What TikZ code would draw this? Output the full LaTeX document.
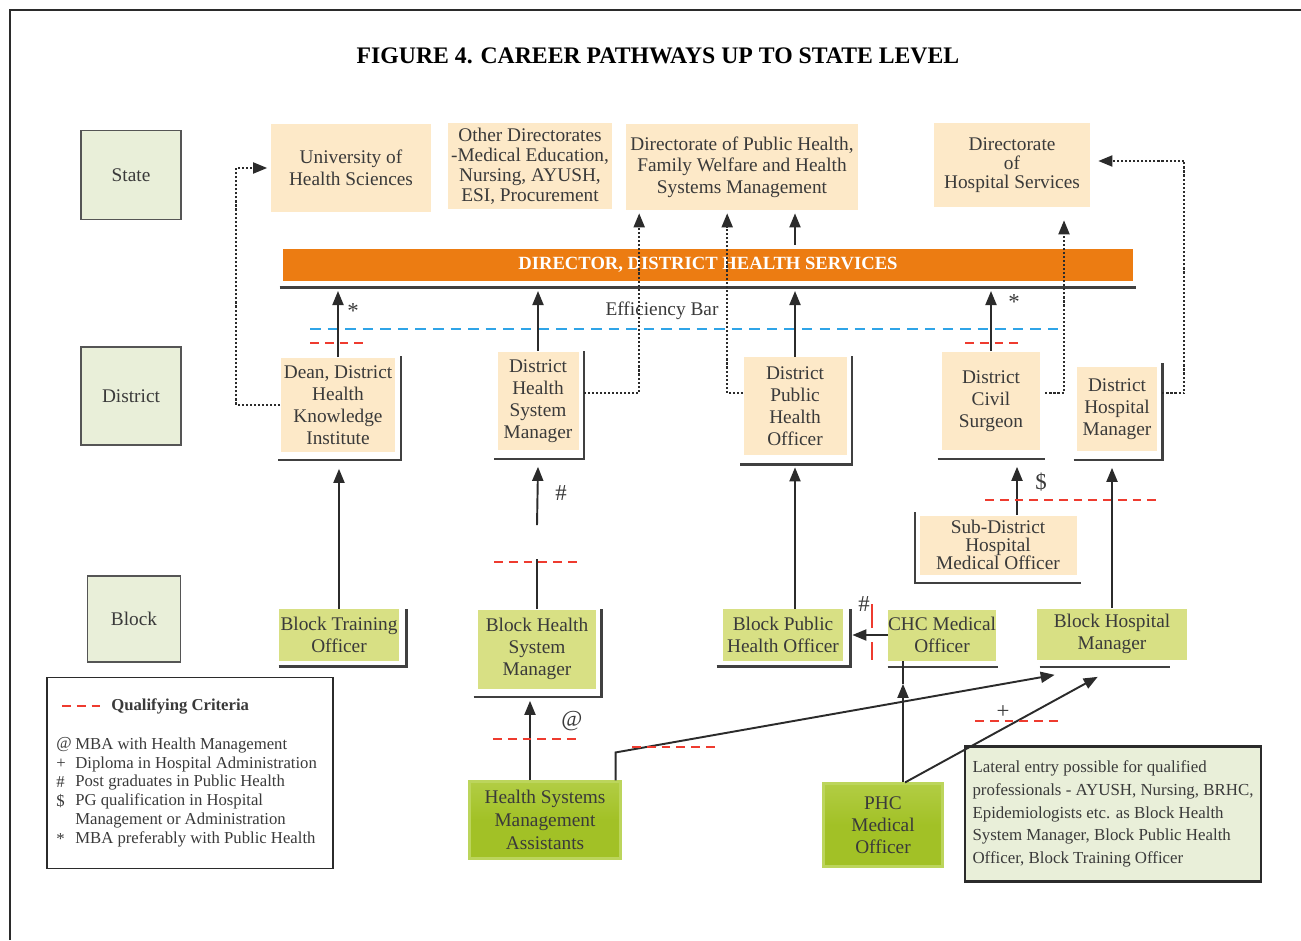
\documentclass[tikz,border=0pt]{standalone}
\usepackage{fontspec}
\setmainfont{Liberation Serif}
\usetikzlibrary{arrows.meta,calc}

\definecolor{peach}{HTML}{FDE9C8}
\definecolor{levelgreen}{HTML}{E9EFD9}
\definecolor{blockgreen}{HTML}{D8E084}
\definecolor{hsgreentop}{HTML}{B2CD44}
\definecolor{hsgreenbot}{HTML}{A2C126}
\definecolor{hsgreenrim}{HTML}{BCD55C}
\definecolor{barorange}{HTML}{EC7C12}
\definecolor{effblue}{HTML}{2FA4E7}
\definecolor{qualred}{HTML}{EE3B2F}
\definecolor{linec}{HTML}{2B2B2B}
\definecolor{textgray}{HTML}{3A3A3A}

\tikzset{
  boxfont/.style={font=\fontsize{11}{12.5}\selectfont},
  levelbox/.style={draw=linec!80, line width=1.1pt, fill=levelgreen, text=textgray, boxfont, inner sep=0pt},
  peachbox/.style={fill=peach, text=textgray, boxfont, align=center, inner sep=0pt},
  blockbox/.style={fill=blockgreen, text=textgray, boxfont, align=center, inner sep=0pt},
  hsbox/.style={draw=hsgreenrim, line width=1.2pt, top color=hsgreentop, bottom color=hsgreenbot, middle color=hsgreenbot, text=textgray, boxfont, align=center, inner sep=0pt},
  barbox/.style={fill=barorange, text=white, font=\fontsize{10.6}{12}\selectfont\bfseries, inner sep=0pt},
  shadowline/.style={draw=linec!90, line width=1.4pt},
  arr/.style={draw=linec, line width=1.1pt, -{Triangle[length=2.8mm,width=2.2mm]}},
  dotarr/.style={draw=linec, line width=1.1pt, dash pattern=on 1.2pt off 1.1pt, -{Triangle[length=2.8mm,width=2.2mm]}},
  reddash/.style={draw=qualred, line width=1.3pt, dash pattern=on 5pt off 3.4pt},
  bluedash/.style={draw=effblue, line width=1.3pt, dash pattern=on 6pt off 4pt},
  marktxt/.style={text=textgray, font=\fontsize{13}{14}\selectfont, inner sep=0pt},
  legendtxt/.style={anchor=west, text=textgray, font=\fontsize{9.5}{11}\selectfont, inner sep=0pt},
}

\begin{document}
\begin{tikzpicture}[x=0.02cm,y=-0.02cm]
% Canvas and frame
\useasboundingbox (0,0) rectangle (1301,940);
\draw[linec, line width=1.6pt] (10,940) -- (10,10) -- (1301,10);
\node[font=\fontsize{13.5}{15}\selectfont\bfseries] (title) at (658,56) {FIGURE 4. CAREER PATHWAYS UP TO STATE LEVEL};

% Levels
\foreach \name/\txt/\x/\y/\w/\h in {state/State/131/175/2cm/1.78cm, district/District/131/396/2cm/1.96cm, block/Block/134/619/1.86cm/1.72cm}
  \node[levelbox, minimum width=\w, minimum height=\h] (\name) at (\x,\y) {\txt};

% State level
\node[peachbox, minimum width=3.2cm, minimum height=1.76cm] (uhs) at (351,168) {University of\\Health Sciences};
\node[peachbox, minimum width=3.28cm, minimum height=1.72cm, font=\fontsize{11}{11.3}\selectfont] (otherdir) at (530,166) {Other Directorates\\-Medical Education,\\Nursing, AYUSH,\\ESI, Procurement};
\node[peachbox, minimum width=4.66cm, minimum height=1.72cm, font=\fontsize{11}{12.2}\selectfont] (dph) at (742,167) {Directorate of Public Health,\\Family Welfare and Health\\Systems Management};
\node[peachbox, minimum width=3.12cm, minimum height=1.68cm, font=\fontsize{11}{11}\selectfont] (dhs) at (1012,165) {Directorate\\of\\Hospital Services};

% Director bar
\node[barbox, minimum width=17cm, minimum height=0.64cm] (dhsbar) at (708,265) {DIRECTOR, DISTRICT HEALTH SERVICES};
\draw[shadowline] ($(dhsbar.south west)+(-3,6)$) -- ($(dhsbar.south east)+(3,6)$);
\coordinate (barline) at (708,291);
\node[text=textgray, boxfont] (effbar) at (662,311) {Efficiency Bar};
\draw[bluedash] (310,329) -- (1060,329);

% District level
\node[peachbox, minimum width=2.3cm, minimum height=1.9cm] (dean) at (338,405) {Dean, District\\Health\\Knowledge\\Institute};
\node[peachbox, minimum width=1.62cm, minimum height=1.98cm] (dhsm) at (538,401) {District\\Health\\System\\Manager};
\node[peachbox, minimum width=2.06cm, minimum height=1.96cm] (dpho) at (795,406) {District\\Public\\Health\\Officer};
\node[peachbox, minimum width=1.96cm, minimum height=1.98cm] (dcs) at (991,401) {District\\Civil\\Surgeon};
\node[peachbox, minimum width=1.6cm, minimum height=1.7cm] (dhm) at (1117,409) {District\\Hospital\\Manager};
\node[peachbox, minimum width=3.14cm, minimum height=1.18cm, font=\fontsize{11}{10.2}\selectfont] (sdhmo) at (998,545) {Sub-District\\Hospital\\Medical Officer};
\draw[shadowline] ($(dean.south west)+(-2,7)$) -| ($(dean.north east)+(5,-1)$);
\draw[shadowline] ($(dhsm.south west)+(-3,8)$) -| ($(dhsm.north east)+(5,0)$);
\draw[shadowline] ($(dpho.south west)+(-3,9)$) -| ($(dpho.north east)+(5,-1)$);
\draw[shadowline] ($(dcs.south west)+(-4,8)$) -- ($(dcs.south east)+(5,8)$);
\draw[shadowline] ($(dhm.south west)+(-3,8)$) -| ($(dhm.north east)+(5,-3)$);
\draw[shadowline] ($(sdhmo.north west)+(-4,-3)$) |- ($(sdhmo.south east)+(4,8)$);

% Block level
\node[blockbox, minimum width=2.4cm, minimum height=1.04cm] (bto) at (339,635) {Block Training\\Officer};
\node[blockbox, minimum width=2.36cm, minimum height=1.58cm] (bhsm) at (537,649) {Block Health\\System\\Manager};
\node[blockbox, minimum width=2.4cm, minimum height=1.04cm] (bpho) at (783,635) {Block Public\\Health Officer};
\node[blockbox, minimum width=2.14cm, minimum height=1.02cm] (chc) at (942,635) {CHC Medical\\Officer};
\node[blockbox, minimum width=3cm, minimum height=1.02cm] (bhm) at (1112,634) {Block Hospital\\Manager};
\draw[shadowline] ($(bto.south west)+(0,5)$) -| ($(bto.north east)+(7,0)$);
\draw[shadowline] ($(bhsm.south west)+(-4,8)$) -| ($(bhsm.north east)+(5,0)$);
\draw[shadowline] ($(bpho.south west)+(-6,5)$) -| ($(bpho.north east)+(7,0)$);
\draw[shadowline] ($(chc.south west)+(0,6)$) -- ($(chc.south east)+(2,6)$);
\draw[shadowline] ($(bhm.south west)+(3,7)$) -- ($(bhm.south east)+(-17,7)$);

% Entry posts
\node[hsbox, minimum width=3.02cm, minimum height=1.54cm, font=\fontsize{11}{13}\selectfont] (hsma) at (545,820) {Health Systems\\Management\\Assistants};
\node[hsbox, minimum width=2.38cm, minimum height=1.66cm] (phc) at (883,825) {PHC\\Medical\\Officer};
\node[levelbox, draw=linec, line width=1.5pt, minimum width=5.92cm, minimum height=2.7cm, align=left, font=\fontsize{9.6}{13}\selectfont] (lateral) at (1113,814) {Lateral entry possible for qualified\\professionals - AYUSH, Nursing, BRHC,\\Epidemiologists etc. as Block Health\\System Manager, Block Public Health\\Officer, Block Training Officer};

% Promotions to the director bar
\foreach \post in {dean,dhsm,dpho,dcs}
  \draw[arr] (\post.north) -- (\post.north |- barline);
\draw[reddash] (310,343) -- (365,343);
\draw[reddash] (965,343) -- (1020,343);
\node[marktxt] (star1) at (353,311) {*};
\node[marktxt] (star2) at (1014,302) {*};
\draw[arr] ($(dhsbar.north -| dpho.north)+(0,-4)$) -- ($(dpho.north |- dph.south)+(0,3)$);

% Block to district
\draw[arr] (bto.north) -- ($(dean.south)+(1,16)$);
\draw[linec, line width=1.1pt] (bhsm.north) -- ++(0,-50);
\draw[reddash] (494,562) -- (580,562);
\draw[arr] ($(bhsm.north)+(0,-84)$) -- ($(dhsm.south)+(0,16)$);
\node[marktxt] (hash1) at (561,493) {\#};
\draw[arr] (dpho.south |- bpho.north) -- ($(dpho.south)+(0,12)$);
\draw[arr] (chc.west) -- ($(bpho.east)+(9,0)$);
\draw[qualred, line width=1.3pt] (872,604) -- (872,628) (872,642) -- (872,660);
\node[marktxt] (hash2) at (864,604) {\#};
\draw[arr] ($(sdhmo.north)+(19,0)$) -- ($(dcs.south)+(26,16)$);
\node[marktxt] (dollar) at (1041,482) {\$};
\draw[reddash] (985,500) -- (1160,500);
\draw[arr] (bhm.north) -- ($(dhm.south)+(-5,16)$);

% Entry posts upwards
\draw[arr] ($(hsma.north)+(-15,0)$) -- ($(bhsm.south)+(-7,12)$);
\node[marktxt] (at1) at (572,721) {@};
\draw[reddash] (493,739) -- (580,739);
\draw[arr] ($(hsma.north east)+(-6,0)$) -- ++(0,-28) -- ($(bhm.south west)+(18,15)$);
\draw[reddash] (632,747) -- (717,747);
\draw[arr] ($(phc.north)+(20,0)$) -- ($(chc.south)+(-39,23)$);
\draw[linec, line width=1.1pt] ($(chc.south)+(-39,23)$) -- ($(chc.south)+(-39,0)$);
\draw[arr] ($(phc.north)+(22,0)$) -- ($(bhm.south west)+(61,17)$);
\node[marktxt] (plus) at (1003,712) {+};
\draw[reddash] (975,721) -- (1060,721);

% Lateral moves to state directorates
\draw[dotarr, shorten >=2pt] (dean.west) -- ++(-44,0) |- (uhs.west);
\draw[dotarr] ($(dhsm.east)+(5,-8)$) -| ($(dph.south west)+(14,3)$);
\draw[dotarr] ($(dpho.west)+(0,-13)$) -| ($(dph.south west)+(102,3)$);
\draw[dotarr] ($(dcs.east)+(5,-8)$) -| ($(dhs.south)+(52,13)$);
\draw[dotarr] ($(dhm.east)+(5,-16)$) -- ++(22,0) |- ($(dhs.east)+(8,-4)$);

% Legend
\node[draw=linec, line width=1.1pt, fill=white, minimum width=5.72cm, minimum height=3.82cm] (legend) at (190,773) {};
\draw[reddash] (62,706) -- (100,706);
\node[legendtxt, font=\fontsize{9.5}{11}\selectfont\bfseries] (qualcrit) at (111,706) {Qualifying Criteria};
\foreach \sym/\txt/\y in {@/MBA with Health Management/745, +/Diploma in Hospital Administration/764, \#/Post graduates in Public Health/782, \$/PG qualification in Hospital/801, /Management or Administration/820, */MBA preferably with Public Health/839}
  {\node[legendtxt] (sym\y) at (56,\y) {\sym};
   \node[legendtxt] (item\y) at (75,\y) {\txt};}
\end{tikzpicture}
\end{document}
